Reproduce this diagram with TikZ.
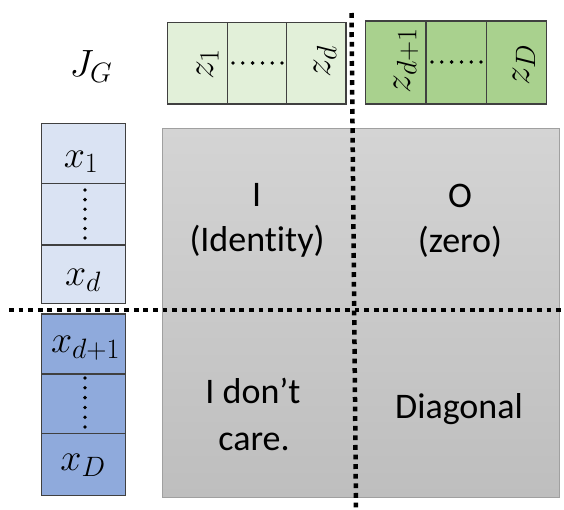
\RequirePackage{fix-cm}
\documentclass[tikz,border=0pt]{standalone}
\usepackage{fontspec}
\setmainfont{Carlito}[Ligatures=NoCommon]
\newcommand\subx[1]{\hbox{\fontsize{28}{28}\selectfont$#1$}}
\definecolor{lgreen}{HTML}{E2F0D9}
\definecolor{dgreen}{HTML}{A9D18E}
\definecolor{lblue}{HTML}{DAE3F3}
\definecolor{dblue}{HTML}{8FAADC}
\definecolor{cellline}{HTML}{404040}
\definecolor{graytop}{HTML}{D4D4D4}
\definecolor{graybot}{HTML}{BEBEBE}
\definecolor{grayline}{HTML}{A0A0A0}
\begin{document}
\begin{tikzpicture}[x=1pt,y=-1pt,
  cell/.style={draw=cellline, line width=1.3pt},
  lbl/.style={inner sep=0pt, anchor=base, font=\fontsize{38}{45}\selectfont},
  rlbl/.style={lbl, rotate=90},
  txt/.style={inner sep=0pt, anchor=base, font=\fontsize{36}{45}\selectfont},
  bigdots/.style={line width=4.5pt, dash pattern=on 4.8pt off 4.8pt},
  smalldot/.style={fill=black}]
\useasboundingbox (0,0) rectangle (564,509);

% grey matrix
\shade[top color=graytop, bottom color=graybot, draw=grayline, line width=0.8pt]
  (162.3,128.3) rectangle (559.3,497.3);

% z row (light)
\foreach \a/\b in {167.3/227.3,227.3/286.7,286.7/346}
  \draw[cell, fill=lgreen] (\a,22.5) rectangle (\b,104);
% z row (dark)
\foreach \a/\b in {365.7/426,426/486.7,486.7/546.7}
  \draw[cell, fill=dgreen] (\a,21) rectangle (\b,104);
% x column (light)
\foreach \a/\b in {123.3/183.3,183.3/245,245/303.3}
  \draw[cell, fill=lblue] (41.7,\a) rectangle (125.7,\b);
% x column (dark)
\foreach \a/\b in {314/374,374/433.3,433.3/495.7}
  \draw[cell, fill=dblue] (41.7,\a) rectangle (125.7,\b);

% small dots
\foreach \i in {0,...,5} {
  \fill[smalldot] (233+9.8*\i,63) circle[radius=1.9pt];
  \fill[smalldot] (432+9.8*\i,62) circle[radius=1.9pt];
  \fill[smalldot] (85,190+9.6*\i) circle[radius=1.9pt];
  \fill[smalldot] (85,378+9.8*\i) circle[radius=1.9pt];
}

% labels
\node[lbl] (jg) at (91,76) {$J_{\subx{G}}$};
\node[rlbl] (z1) at (213,64) {$z_{\subx{1}}$};
\node[rlbl] (zd) at (330,61.5) {$z_{\subx{d}}$};
\node[rlbl] (zd1) at (410,60.5) {$z_{\subx{d{+}1}}$};
\node[rlbl] (zD) at (529,65) {$z_{\subx{D}}$};
\node[lbl] (x1) at (81,167) {$x_{\subx{1}}$};
\node[lbl] (xd) at (83,285) {$x_{\subx{d}}$};
\node[lbl] (xd1) at (85.5,352) {$x_{\subx{d{+}1}}$};
\node[lbl] (xD) at (83,470) {$x_{\subx{D}}$};

% quadrant texts
\node[txt] (ia) at (256.7,206) {I};
\node[txt] (ib) at (257,251) {(Ident\kern0pt ity)};
\node[txt] (oa) at (460,207) {O};
\node[txt] (ob) at (460,252) {(zero)};
\node[txt] (ca) at (253,403) {I don’t};
\node[txt] (cb) at (254,450) {care.};
\node[txt] (dg) at (459,418) {Diagonal};

% dotted separators
\coordinate (vt) at (351.5,13);
\coordinate (vb) at (356,509);
\coordinate (hl) at (9,310);
\coordinate (hr) at (564,310);
\draw[bigdots] (vt) -- (vb);
\draw[bigdots] (hl) -- (hr);
\end{tikzpicture}
\end{document}
